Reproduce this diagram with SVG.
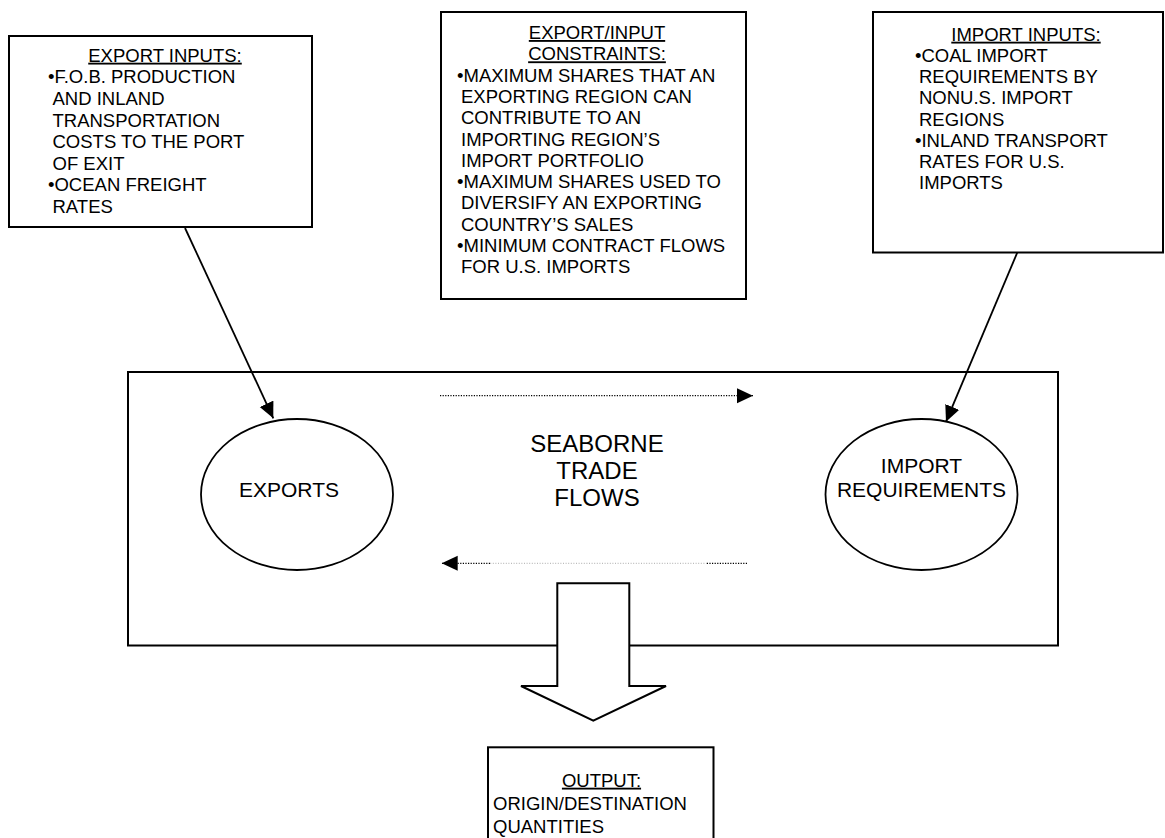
<svg xmlns="http://www.w3.org/2000/svg" width="1165" height="838" viewBox="0 0 1165 838">
<style>
  .box { fill: #fff; stroke: #000; stroke-width: 2; }
  .oval { fill: #fff; stroke: #000; stroke-width: 1.8; }
  .t { font-family: "Liberation Sans", Arial, sans-serif; font-size: 18.5px; fill: #000; }
  .title { text-anchor: middle; text-decoration: underline; }
  .lbl { font-family: "Liberation Sans", Arial, sans-serif; font-size: 21px; fill: #000; text-anchor: middle; }
  .big { font-family: "Liberation Sans", Arial, sans-serif; font-size: 24px; fill: #000; text-anchor: middle; }
  .arrow { stroke: #000; stroke-width: 1.8; fill: none; }
  .dot { stroke: #000; stroke-width: 1.3; stroke-dasharray: 1.2 1.4; fill: none; }
  .dotlight { stroke: #aaa; stroke-width: 1; stroke-dasharray: 1 1.6; fill: none; }
</style>
<defs>
  <marker id="ah" markerUnits="userSpaceOnUse" markerWidth="17" markerHeight="16" refX="16" refY="7.5" orient="auto">
    <path d="M0,0 L16,7.5 L0,15 z" fill="#000"/>
  </marker>
</defs>
<rect width="1165" height="838" fill="#fff"/>

<g id="main-box">
  <rect class="box" x="128" y="372" width="930" height="273.5"/>
</g>

<g id="export-inputs">
  <rect class="box" x="9" y="36" width="303" height="191"/>
  <text class="t title" x="165" y="61.7">EXPORT INPUTS:</text>
  <text class="t" x="48" y="83.3">•F.O.B. PRODUCTION</text>
  <text class="t" x="52.5" y="104.9">AND INLAND</text>
  <text class="t" x="52.5" y="126.5">TRANSPORTATION</text>
  <text class="t" x="52.5" y="148.1">COSTS TO THE PORT</text>
  <text class="t" x="52.5" y="169.7">OF EXIT</text>
  <text class="t" x="48" y="191.3">•OCEAN FREIGHT</text>
  <text class="t" x="52.5" y="212.9">RATES</text>
</g>

<g id="constraints">
  <rect class="box" x="441" y="12" width="305" height="287"/>
  <text class="t title" x="597" y="39">EXPORT/INPUT</text>
  <text class="t title" x="597" y="60.3">CONSTRAINTS:</text>
  <text class="t" x="457" y="81.6">•MAXIMUM SHARES THAT AN</text>
  <text class="t" x="461" y="102.9">EXPORTING REGION CAN</text>
  <text class="t" x="461" y="124.2">CONTRIBUTE TO AN</text>
  <text class="t" x="461" y="145.5">IMPORTING REGION’S</text>
  <text class="t" x="461" y="166.8">IMPORT PORTFOLIO</text>
  <text class="t" x="457" y="188.1">•MAXIMUM SHARES USED TO</text>
  <text class="t" x="461" y="209.4">DIVERSIFY AN EXPORTING</text>
  <text class="t" x="461" y="230.7">COUNTRY’S SALES</text>
  <text class="t" x="457" y="252">•MINIMUM CONTRACT FLOWS</text>
  <text class="t" x="461" y="273.3">FOR U.S. IMPORTS</text>
</g>

<g id="import-inputs">
  <rect class="box" x="873" y="12" width="290" height="240.5"/>
  <text class="t title" x="1026" y="40.7">IMPORT INPUTS:</text>
  <text class="t" x="915" y="62">•COAL IMPORT</text>
  <text class="t" x="919" y="83.2">REQUIREMENTS BY</text>
  <text class="t" x="919" y="104.4">NONU.S. IMPORT</text>
  <text class="t" x="919" y="125.6">REGIONS</text>
  <text class="t" x="915" y="146.8">•INLAND TRANSPORT</text>
  <text class="t" x="919" y="168">RATES FOR U.S.</text>
  <text class="t" x="919" y="189.2">IMPORTS</text>
</g>

<g id="exports">
  <ellipse class="oval" cx="297" cy="494.5" rx="96" ry="75.5"/>
  <text class="lbl" x="289" y="496.7">EXPORTS</text>
</g>

<g id="import-requirements">
  <ellipse class="oval" cx="921.5" cy="494.5" rx="96" ry="75.5"/>
  <text class="lbl" x="921.5" y="472.7">IMPORT</text>
  <text class="lbl" x="921.5" y="496.7">REQUIREMENTS</text>
</g>

<g id="seaborne-trade-flows">
  <text class="big" x="597" y="452.3">SEABORNE</text>
  <text class="big" x="597" y="479">TRADE</text>
  <text class="big" x="597" y="505.7">FLOWS</text>
</g>

<g id="output-arrow">
  <polygon class="box" points="557.3,583.3 629.3,583.3 629.3,686 666,686 593.3,720.7 521,686 557.3,686"/>
</g>

<g id="output">
  <rect class="box" x="488" y="747.3" width="225.5" height="110"/>
  <text class="t title" x="601.5" y="786.7">OUTPUT:</text>
  <text class="t" x="493" y="810">ORIGIN/DESTINATION</text>
  <text class="t" x="493" y="832.7">QUANTITIES</text>
</g>

<g id="connectors">
  <line class="arrow" x1="185" y1="228" x2="273.3" y2="418.3" marker-end="url(#ah)"/>
  <line class="arrow" x1="1017.3" y1="252.5" x2="946" y2="421.7" marker-end="url(#ah)"/>
  <line class="dot" x1="440" y1="395.7" x2="753" y2="395.7" marker-end="url(#ah)"/>
  <line class="dot" x1="747" y1="563.3" x2="707" y2="563.3"/>
  <line class="dotlight" x1="707" y1="563.3" x2="490" y2="563.3"/>
  <line class="dot" x1="490" y1="563.3" x2="441.7" y2="563.3" marker-end="url(#ah)"/>
</g>
</svg>
